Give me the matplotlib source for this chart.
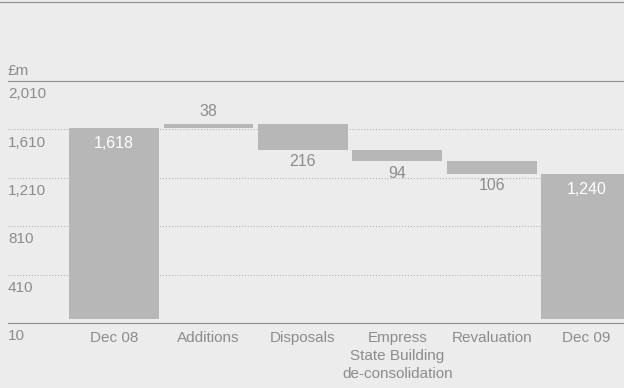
import matplotlib
matplotlib.use('Agg')
import matplotlib.pyplot as plt
from matplotlib.lines import Line2D
import numpy as np

# data
categories = ['Dec 08', 'Additions', 'Disposals', 'Empress\nState Building\nde-consolidation', 'Revaluation', 'Dec 09']
changes = [1618, 38, -216, -94, -106, 1240]
value_labels = ['1,618', '38', '216', '94', '106', '1,240']
kinds = ['total', 'step', 'step', 'step', 'step', 'total']
y_ticks = [10, 410, 810, 1210, 1610, 2010]
y_tick_labels = ['10', '410', '810', '1,210', '1,610', '2,010']

bg = '#ececec'
bar_col = '#b7b7b7'
txt_col = '#8c8c8c'
line_col = '#8f8f8f'

plt.rcParams['font.family'] = ['Liberation Sans', 'DejaVu Sans']

fig = plt.figure(figsize=(6.24, 3.88), dpi=100, facecolor=bg)
W, H = 624, 388
ax = fig.add_axes([8 / W, (H - 323) / H, (W - 8) / W, 242 / H])
ax.set_facecolor(bg)

ymin, ymax = y_ticks[0], y_ticks[-1]
ax.set_ylim(ymin, ymax)
ax.set_xlim(-1.123, 5.40)

# waterfall bars
x = np.arange(len(categories))
running = 0
bottoms, heights = [], []
for c, k in zip(changes, kinds):
    if k == 'total':
        bottoms.append(ymin + 30)
        heights.append(c - ymin - 30)
        running = c
    else:
        lo, hi = sorted([running, running + c])
        bottoms.append(lo)
        heights.append(hi - lo)
        running += c
ax.bar(x, heights, bottom=bottoms, width=0.95, color=bar_col, zorder=3)

# value labels
for i, (b, h, c, k, lab) in enumerate(zip(bottoms, heights, changes, kinds, value_labels)):
    if k == 'total':
        ax.annotate(lab, (i, b + h), xytext=(0, -11), textcoords='offset points',
                    ha='center', va='center', color='white', fontsize=11.5, zorder=4)
    elif c > 0:
        ax.annotate(lab, (i, b + h), xytext=(0, 9), textcoords='offset points',
                    ha='center', va='center', color=txt_col, fontsize=11.5, zorder=4)
    else:
        ax.annotate(lab, (i, b), xytext=(0, -8.5), textcoords='offset points',
                    ha='center', va='center', color=txt_col, fontsize=11.5, zorder=4)

# gridlines and y labels
for t, lab in zip(y_ticks, y_tick_labels):
    if t in (ymin, ymax):
        ax.axhline(t, color=line_col, lw=0.8, zorder=2, clip_on=False)
    else:
        ax.axhline(t, color='#a8a8a8', lw=0.7, ls=(0, (1, 2)), zorder=1)
    ax.annotate(lab, (0, t), xycoords=('axes fraction', 'data'), xytext=(0, -9.5),
                textcoords='offset points', ha='left', va='center', color=txt_col, fontsize=11)
ax.annotate('£m', (0, ymax), xycoords=('axes fraction', 'data'), xytext=(0, 7.5),
            textcoords='offset points', ha='left', va='center', color=txt_col, fontsize=11)

# category labels
for i, cat in enumerate(categories):
    ax.annotate(cat, (i, ymin), xytext=(0, -5.5), textcoords='offset points',
                ha='center', va='top', color=txt_col, fontsize=11, linespacing=1.38)

for s in ax.spines.values():
    s.set_visible(False)
ax.set_xticks([])
ax.set_yticks([])

# top rule
fig.add_artist(Line2D([0, 1], [1 - 2 / H, 1 - 2 / H], color=line_col, lw=0.8))

fig.savefig('out.png', dpi=100, facecolor=bg)
